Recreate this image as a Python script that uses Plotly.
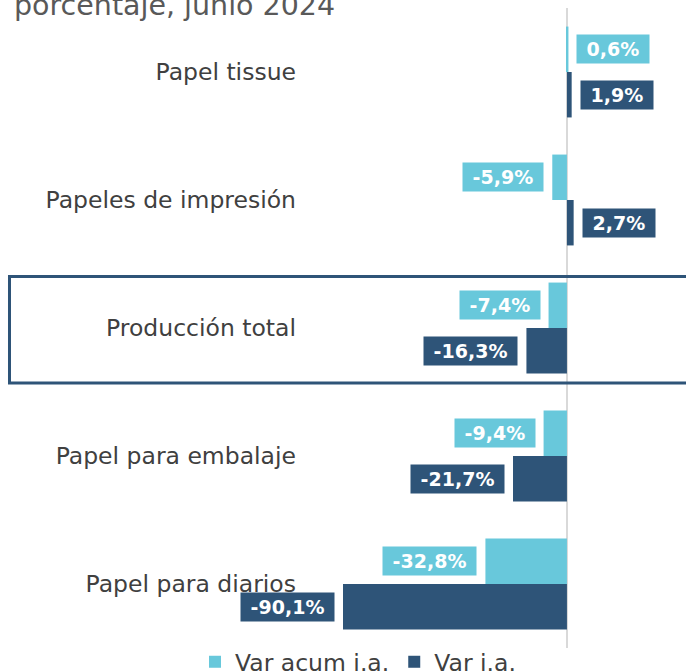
import plotly.graph_objects as go

categories = ["Papel tissue", "Papeles de impresión", "Producción total",
              "Papel para embalaje", "Papel para diarios"]
var_acum = [0.6, -5.9, -7.4, -9.4, -32.8]
var_ia = [1.9, 2.7, -16.3, -21.7, -90.1]
series_names = ["Var acum i.a.", "Var i.a."]
title_text = "porcentaje, junio 2024"

LIGHT = "#68C8DB"
DARK = "#2E5478"
TXT = "#404040"
FONT = "DejaVu Sans, Verdana, sans-serif"

def fmt(v):
    return f"{v:.1f}".replace(".", ",") + "%"

fig = go.Figure()
fig.add_trace(go.Bar(y=categories, x=var_acum, orientation="h", name=series_names[0],
                     marker=dict(color=LIGHT, line=dict(width=0)), hoverinfo="skip"))
fig.add_trace(go.Bar(y=categories, x=var_ia, orientation="h", name=series_names[1],
                     marker=dict(color=DARK, line=dict(width=0)), hoverinfo="skip"))

annotations = []
for vals, color, ysh in [(var_acum, LIGHT, 22.75), (var_ia, DARK, -22.75)]:
    for cat, v in zip(categories, vals):
        neg = v < 0
        annotations.append(dict(
            x=v, y=cat, xref="x", yref="y",
            text="\u00a0" + fmt(v) + "\u00a0",
            showarrow=False,
            xanchor="right" if neg else "left",
            xshift=-8 if neg else 8,
            yshift=ysh,
            bgcolor=color, borderpad=3,
            font=dict(family=FONT, size=19, color="white", weight="bold"),
        ))

annotations.append(dict(
    x=-0.746, y=1.004, xref="paper", yref="paper",
    text=title_text, showarrow=False, xanchor="left", yanchor="middle",
    font=dict(family=FONT, size=28.5, color="#595959"),
))

fig.update_layout(
    width=686, height=672,
    margin=dict(l=300, r=0, t=8, b=24, autoexpand=False),
    paper_bgcolor="white", plot_bgcolor="white",
    barmode="group", bargap=0.29, bargroupgap=0,
    font=dict(family=FONT, color=TXT, size=23.5),
    xaxis=dict(range=[-107.4, 47.9], showgrid=False, showticklabels=False,
               zeroline=True, zerolinecolor="#D9D9D9", zerolinewidth=2,
               ticks="", fixedrange=True),
    yaxis=dict(autorange="reversed", showgrid=False, ticks="",
               tickfont=dict(family=FONT, size=23.5, color=TXT),
               ticklabelstandoff=3, showline=False, zeroline=False, fixedrange=True),
    legend=dict(orientation="h", x=-0.272, xanchor="left",
                yref="container", y=0.0149, yanchor="middle",
                font=dict(family=FONT, size=23.5, color=TXT), traceorder="normal",
                bgcolor="rgba(0,0,0,0)"),
    annotations=annotations,
    shapes=[dict(type="rect", xref="paper", yref="paper",
                 x0=-0.7526, x1=1.05, y0=0.414, y1=0.5805,
                 line=dict(color=DARK, width=3), fillcolor="rgba(0,0,0,0)")],
    showlegend=True,
)

fig.write_html("out.html", config={"displayModeBar": False},
               post_script="document.body.style.margin='0';document.body.style.overflow='hidden';")
